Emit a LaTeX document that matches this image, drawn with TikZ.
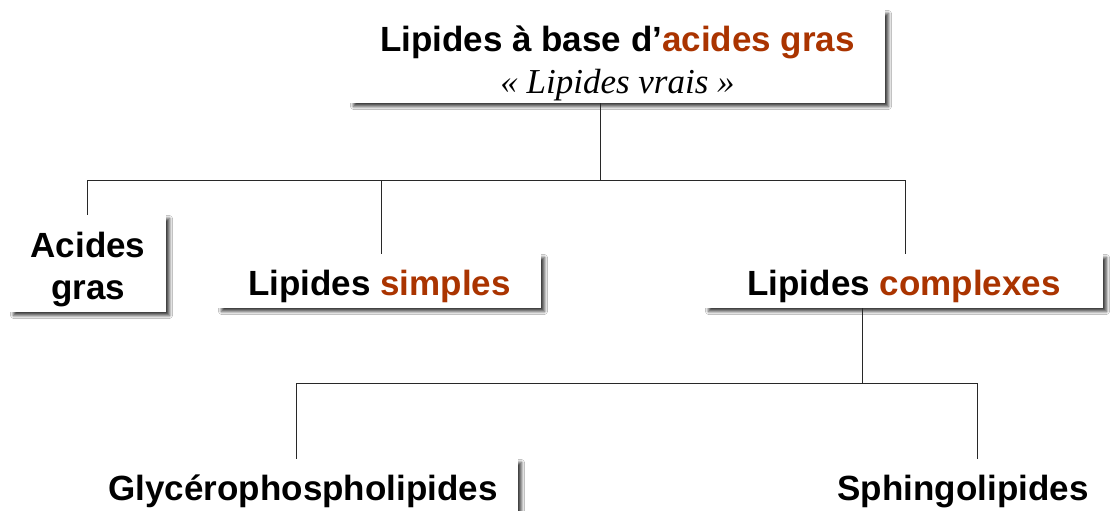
\documentclass[tikz,border=0pt]{standalone}
\usepackage{fontspec}
\setmainfont{Liberation Sans}
\newfontfamily\timesit{Liberation Serif}
\usetikzlibrary{shadows.blur}
\definecolor{accent}{RGB}{170,52,0}
\definecolor{linegray}{RGB}{40,40,40}
\tikzset{
  box/.style={fill=white, draw=none, inner sep=0pt, align=center,
    font=\bfseries\fontsize{35}{42}\selectfont,
    blur shadow={shadow xshift=3.5pt, shadow yshift=-3.5pt, shadow blur radius=3pt, shadow blur steps=6, shadow opacity=75}},
  oneline/.style={text height=29pt, text depth=0pt},
  conn/.style={draw=linegray, line width=0.9pt}
}
\begin{document}
\begin{tikzpicture}[x=1pt,y=-1pt]
\useasboundingbox (0,0) rectangle (1116,511);
\clip (0,0) rectangle (1116,511);
\fill[white] (0,0) rectangle (1116,511);
% nodes
\node[box, minimum width=535pt, minimum height=93pt] (top) at (617.5,56.5)
  {\rule{0pt}{38.5pt}Lipides à base d’\textcolor{accent}{acides gras}\\[0pt]{\mdseries\timesit\itshape\fontsize{35}{42}\selectfont « Lipides vrais »}};
\node[box, minimum width=156pt, minimum height=97pt] (ag) at (88,263.5) {\rule{0pt}{38pt}Acides\\gras};
\node[box, oneline, minimum width=323pt, minimum height=54pt] (ls) at (379.5,281) {Lipides \textcolor{accent}{simples}};
\node[box, oneline, minimum width=398pt, minimum height=54pt] (lc) at (904,281) {Lipides \textcolor{accent}{complexes}};
\node[box, oneline, minimum width=430pt, minimum height=54pt] (gp) at (303,486) {Glycérophospholipides};
\node[box, oneline, minimum width=322pt, minimum height=54pt] (sp) at (963,486) {Sphingolipides};
% junction coordinates
\coordinate (j1) at (600,180);
\coordinate (j2) at (862,383);
% connectors
\draw[conn] (top.south -| j1) -- (j1);
\draw[conn] (87,180) -- (905,180);
\draw[conn] (87,180) -- (ag.north -| 87,0);
\draw[conn] (381,180) -- (ls.north -| 381,0);
\draw[conn] (905,180) -- (lc.north -| 905,0);
\draw[conn] (lc.south -| j2) -- (j2);
\draw[conn] (296,383) -- (977,383);
\draw[conn] (296,383) -- (gp.north -| 296,0);
\draw[conn] (977,383) -- (sp.north -| 977,0);
\end{tikzpicture}
\end{document}
